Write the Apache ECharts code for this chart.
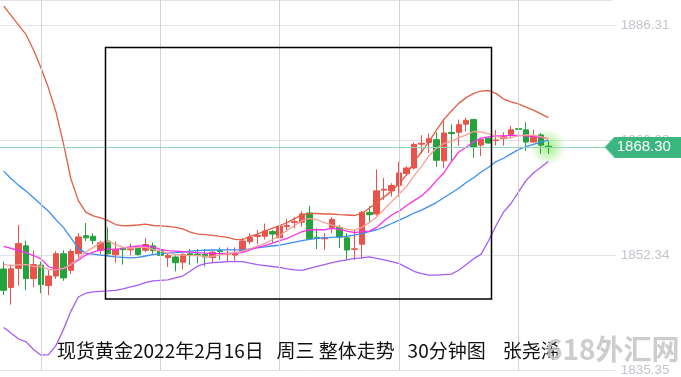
<!DOCTYPE html>
<html>
<head>
<meta charset="utf-8">
<title>现货黄金 30分钟图</title>
<script src="https://cdn.jsdelivr.net/npm/echarts@6/dist/echarts.min.js"></script>
<style>
  html, body { margin: 0; padding: 0; background: #fff; }
  #chart { width: 681px; height: 377px; }
</style>
</head>
<body>
<div id="chart"></div>
<script>
const opens = [1850.27,1847.55,1850.37,1853.71,1848.86,1850.86,1847.83,1849.24,1852.53,1850.09,
  1852.53,1855.20,1855.12,1853.05,1854.41,1852.38,1853.33,1853.12,1853.47,1853.05,
  1853.71,1853.00,1851.96,1852.06,1851.28,1852.53,1852.48,1852.44,1851.96,1852.98,
  1852.48,1852.34,1853.00,1854.32,1855.09,1855.12,1855.82,1854.88,1856.57,1857.14,
  1857.19,1858.55,1854.95,1854.74,1856.43,1856.43,1854.88,1853.19,1853.94,1858.65,
  1858.41,1861.93,1861.83,1862.64,1864.37,1865.21,1868.73,1868.97,1869.40,1866.27,
  1870.45,1870.48,1871.69,1872.36,1868.59,1869.61,1869.26,1869.54,1870.14,1871.02,
  1870.85,1869.04,1870.10,1868.41];
const closes = [1847.13,1850.30,1854.03,1848.86,1850.93,1847.97,1849.24,1852.53,1848.96,1852.86,
  1855.02,1854.88,1854.50,1854.18,1852.53,1853.23,1853.12,1853.26,1852.41,1853.89,
  1853.00,1852.30,1852.30,1851.21,1852.44,1852.27,1852.37,1852.06,1852.77,1852.86,
  1852.62,1852.55,1854.41,1854.98,1855.23,1855.91,1855.44,1856.61,1856.71,1857.28,
  1858.41,1854.74,1854.81,1854.88,1857.60,1854.98,1853.09,1853.26,1858.65,1858.31,
  1861.83,1862.07,1862.64,1864.47,1865.21,1868.69,1868.87,1869.53,1866.35,1870.38,
  1870.31,1871.61,1872.26,1868.27,1869.44,1868.90,1869.36,1869.82,1870.85,1870.92,
  1869.04,1869.96,1868.59,1868.30];
const highs = [1851.36,1850.93,1856.78,1854.46,1853.05,1851.36,1850.09,1852.91,1853.05,1853.23,
  1855.59,1857.08,1855.59,1854.46,1856.43,1854.32,1853.47,1854.03,1853.71,1854.88,
  1854.18,1853.23,1852.53,1852.30,1852.62,1853.23,1853.23,1853.23,1853.00,1853.47,
  1853.47,1853.47,1854.88,1855.59,1856.05,1856.99,1856.05,1857.70,1857.70,1857.94,
  1858.88,1859.60,1856.29,1855.59,1857.94,1856.76,1855.59,1856.05,1858.88,1859.60,
  1864.99,1863.72,1862.96,1866.16,1865.45,1868.97,1870.06,1870.31,1870.48,1872.50,
  1871.65,1872.36,1872.67,1872.50,1869.53,1869.75,1870.85,1870.48,1871.41,1872.03,
  1871.96,1870.85,1870.38,1869.21];
const lows = [1846.42,1845.01,1847.83,1847.13,1847.59,1846.70,1846.42,1848.82,1848.54,1849.52,
  1851.82,1854.41,1853.94,1852.48,1852.20,1851.21,1850.93,1852.30,1852.30,1852.77,
  1852.53,1851.36,1850.58,1849.94,1850.23,1850.89,1851.12,1850.65,1851.12,1851.64,
  1851.36,1851.50,1852.77,1853.94,1853.94,1854.64,1854.18,1854.64,1855.82,1856.29,
  1856.53,1854.64,1853.23,1853.09,1855.59,1853.37,1851.68,1851.59,1851.82,1857.19,
  1858.17,1860.52,1860.98,1860.98,1864.04,1864.99,1867.32,1867.42,1865.41,1865.21,
  1866.16,1868.51,1870.62,1866.72,1867.00,1868.83,1868.51,1868.51,1869.68,1870.85,
  1867.71,1868.97,1867.32,1867.28];

const upperBand = [1889.14,1887.73,1886.32,1884.91,1882.66,1879.98,1877.02,1873.49,1868.84,1863.62,
  1860.38,1858.69,1858.12,1857.84,1857.42,1856.85,1856.64,1856.71,1856.78,1856.90,
  1856.71,1856.64,1856.57,1856.43,1856.22,1855.73,1855.44,1855.37,1855.26,1855.09,
  1854.95,1854.67,1854.60,1855.09,1855.44,1855.87,1856.29,1856.71,1857.14,1857.77,
  1858.26,1858.48,1858.48,1858.41,1858.41,1858.33,1858.26,1858.19,1858.48,1859.25,
  1860.10,1860.94,1861.79,1862.92,1864.19,1866.16,1867.57,1869.12,1870.81,1872.36,
  1873.63,1874.76,1875.61,1876.24,1876.59,1876.64,1876.24,1875.40,1874.97,1874.69,
  1874.20,1873.77,1873.21,1872.65];
const lowerBand = [1841.63,1840.78,1839.93,1839.51,1838.38,1837.54,1837.61,1838.95,1841.34,1844.02,
  1846.14,1846.70,1846.91,1846.98,1847.05,1847.13,1847.34,1847.62,1847.90,1848.25,
  1848.53,1848.60,1848.67,1848.96,1849.24,1849.94,1850.72,1851.07,1851.21,1851.28,
  1851.36,1851.36,1851.36,1851.14,1850.93,1850.79,1850.65,1850.51,1850.30,1850.16,
  1850.09,1850.37,1850.65,1850.93,1851.21,1851.43,1851.64,1851.85,1851.92,1852.06,
  1851.85,1851.64,1851.36,1851.07,1850.51,1849.94,1849.59,1849.38,1849.38,1849.45,
  1849.52,1850.09,1850.93,1851.78,1852.48,1854.46,1856.71,1858.69,1859.96,1861.65,
  1863.34,1864.47,1865.31,1866.16];
const midBand = [1864.75,1863.62,1862.64,1861.79,1860.80,1859.82,1858.83,1857.56,1856.43,1854.88,
  1853.33,1852.62,1852.48,1852.34,1852.20,1852.06,1851.99,1851.92,1851.99,1852.20,
  1852.41,1852.55,1852.62,1852.69,1852.77,1852.91,1852.98,1853.05,1853.09,1853.12,
  1853.12,1853.12,1853.12,1853.26,1853.40,1853.54,1853.68,1853.82,1854.03,1854.25,
  1854.46,1854.67,1854.81,1854.88,1854.95,1855.02,1855.09,1855.30,1855.51,1855.80,
  1856.08,1856.50,1857.00,1857.49,1857.98,1858.55,1858.97,1859.53,1860.10,1860.80,
  1861.51,1862.21,1863.06,1863.76,1864.61,1865.31,1866.16,1866.65,1867.29,1867.92,
  1868.35,1868.70,1869.05,1869.33];
const ma10 = [1853.61,1853.33,1852.98,1852.69,1852.27,1851.78,1850.65,1850.23,1850.30,1850.93,
  1851.57,1852.34,1852.77,1853.12,1853.26,1853.12,1853.40,1853.54,1853.68,1853.68,
  1853.54,1853.19,1852.98,1852.91,1852.84,1852.77,1852.69,1852.62,1852.55,1852.55,
  1852.55,1852.62,1852.69,1853.12,1853.47,1853.75,1854.10,1854.46,1854.81,1855.30,
  1855.80,1856.08,1856.08,1856.08,1856.29,1856.15,1855.87,1855.66,1855.80,1855.87,
  1856.43,1857.42,1858.26,1858.83,1859.67,1860.38,1861.08,1862.07,1863.34,1864.47,
  1866.16,1867.57,1868.28,1869.12,1869.61,1869.82,1869.97,1869.97,1870.04,1870.04,
  1869.97,1869.90,1869.75,1869.54];
const ma5 = [1850.93,1850.79,1850.93,1850.93,1850.65,1850.65,1850.23,1850.16,1850.37,1850.93,
  1851.78,1852.77,1853.47,1854.18,1854.39,1853.89,1853.47,1853.33,1853.47,1853.47,
  1853.19,1852.91,1852.62,1852.41,1852.34,1852.27,1852.27,1852.13,1852.13,1852.34,
  1852.55,1852.69,1852.91,1853.26,1853.68,1854.03,1854.60,1855.23,1856.01,1856.71,
  1857.42,1857.77,1857.56,1857.14,1856.78,1856.50,1856.15,1856.01,1856.43,1857.14,
  1857.98,1859.11,1860.24,1861.37,1862.49,1864.04,1865.45,1867.01,1868.13,1868.84,
  1869.12,1869.69,1870.11,1870.60,1870.53,1870.25,1869.90,1869.61,1869.68,1869.97,
  1870.11,1870.04,1869.83,1869.47];

const yTickLabels = ['1835.35', '1852.34', '1869.33', '1886.31'];
const yMin = 1835.35;
const yStep = 16.985;
const yMax = 1890.04;

// bars that carry a vertical grid line
const vGridSlots = ['5', '21', '37', '53', '69'];

// 74 bars plus empty slots to the right of the last one
const slotCount = 82;
const categories = Array.from({ length: slotCount }, (_, i) => String(i));
const candles = opens.map((o, i) => [o, closes[i], lows[i], highs[i]]);
const lastIndex = closes.length - 1;
const lastPrice = closes[lastIndex];

const caption = '现货黄金2022年2月16日   周三 整体走势   30分钟图    张尧浠';

// price tag with a left-pointing tip
const tagCanvas = document.createElement('canvas');
tagCanvas.width = 80;
tagCanvas.height = 21;
const ctx = tagCanvas.getContext('2d');
ctx.fillStyle = '#3bb67f';
ctx.beginPath();
ctx.moveTo(0, 10.5);
ctx.lineTo(10, 0);
ctx.lineTo(80, 0);
ctx.lineTo(80, 21);
ctx.lineTo(10, 21);
ctx.closePath();
ctx.fill();

const chart = echarts.init(document.getElementById('chart'));

const lineSeries = (name, data, color) => ({
  name,
  type: 'line',
  data,
  symbol: 'none',
  silent: true,
  z: 3,
  lineStyle: { width: 1.3, color },
  itemStyle: { color },
});

const option = {
  animation: false,
  backgroundColor: '#fff',
  title: {
    text: caption,
    left: 57,
    top: 340,
    padding: 0,
    textStyle: {
      fontFamily: '"Noto Sans CJK SC", sans-serif',
      fontSize: 19,
      fontWeight: 'normal',
      color: '#111',
      lineHeight: 21,
    },
  },
  graphic: [
    {
      type: 'rect',
      shape: { x: 105.5, y: 47.5, width: 386, height: 251.5 },
      style: { fill: 'none', stroke: '#000', lineWidth: 1.5 },
      z: 10,
      silent: true,
    },
    {
      type: 'text',
      left: 546,
      top: 335,
      style: {
        text: '618外汇网',
        font: 'bold 28px "Noto Sans CJK SC", sans-serif',
        fill: 'rgba(196, 196, 196, 0.85)',
      },
      z: 11,
      silent: true,
    },
  ],
  grid: { left: -5.3, top: -10, width: 617, bottom: -1 },
  xAxis: {
    type: 'category',
    data: categories,
    boundaryGap: true,
    axisLine: { show: false },
    axisTick: { show: false },
    axisLabel: { show: false },
    splitLine: { show: false },
  },
  yAxis: {
    type: 'value',
    position: 'right',
    min: yMin,
    max: yMax,
    interval: yStep,
    axisLine: { show: false },
    axisTick: { show: true, length: 4, lineStyle: { color: '#e0e0e0' } },
    axisLabel: {
      margin: 9,
      color: '#c3c5cc',
      fontSize: 13.5,
      fontFamily: '"Liberation Sans", Arial, sans-serif',
      showMaxLabel: false,
      formatter: (v, i) => yTickLabels[i] || '',
    },
    splitLine: { lineStyle: { color: '#e3e3e3' } },
  },
  series: [
    {
      // invisible carrier for the vertical grid lines
      type: 'line',
      data: closes,
      symbol: 'none',
      silent: true,
      z: 0,
      lineStyle: { opacity: 0 },
      markLine: {
        silent: true,
        animation: false,
        symbol: ['none', 'none'],
        label: { show: false },
        lineStyle: { color: '#d2d2d2', width: 1, type: 'solid', opacity: 1 },
        data: vGridSlots.map((s) => ({ xAxis: s })),
      },
    },
    {
      type: 'scatter',
      data: [[lastIndex, lastPrice]],
      symbolSize: 36,
      silent: true,
      z: 1,
      itemStyle: {
        color: new echarts.graphic.RadialGradient(0.5, 0.5, 0.5, [
          { offset: 0, color: 'rgba(100, 225, 60, 0.75)' },
          { offset: 1, color: 'rgba(100, 225, 60, 0)' },
        ]),
      },
    },
    {
      type: 'candlestick',
      data: candles,
      barWidth: 6,
      itemStyle: {
        color: '#e9534b',
        color0: '#22a33b',
        borderColor: '#e9534b',
        borderColor0: '#22a33b',
        borderWidth: 1,
      },
      markLine: {
        silent: true,
        animation: false,
        symbol: ['none', 'none'],
        lineStyle: { color: '#93d6b7', width: 1, type: 'solid' },
        label: {
          position: 'end',
          distance: -7,
          formatter: () => lastPrice.toFixed(2),
          color: '#fff',
          fontSize: 15,
          lineHeight: 15,
          fontFamily: '"Liberation Sans", Arial, sans-serif',
          padding: [3, 12, 3, 12],
          backgroundColor: { image: tagCanvas },
        },
        data: [{ yAxis: lastPrice }],
      },
    },
    lineSeries('布林上轨', upperBand, '#e35e45'),
    lineSeries('布林下轨', lowerBand, '#a65cf2'),
    lineSeries('布林中轨', midBand, '#3b8ef3'),
    lineSeries('MA10', ma10, '#fb2ff0'),
    lineSeries('MA5', ma5, '#f6a097'),
  ],
};

chart.setOption(option);
</script>
</body>
</html>
